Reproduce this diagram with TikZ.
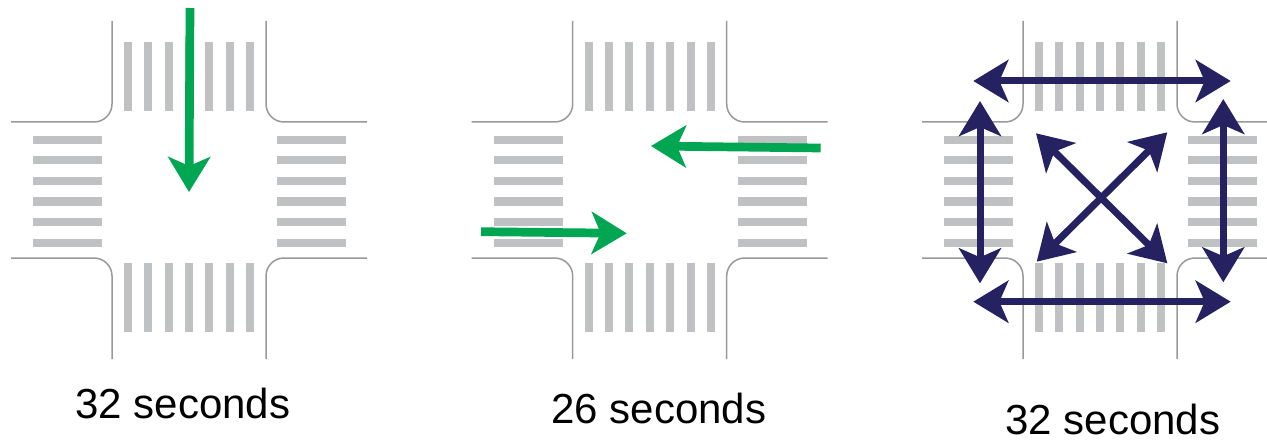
\documentclass[tikz,border=0pt]{standalone}
\usepackage{fontspec}
\setmainfont{Liberation Sans}
\usetikzlibrary{arrows.meta}
\definecolor{stripe}{HTML}{C0C1C3}
\definecolor{curb}{HTML}{999999}
\definecolor{grn}{HTML}{00A651}
\definecolor{navy}{HTML}{262262}
\tikzset{
  curbline/.style={draw=curb,line width=1.5pt,rounded corners=18pt},
  stripebar/.style={fill=stripe},
  tiphead/.style={Stealth[length=35pt,width=42pt,inset=9pt]},
  greenarrow/.style={draw=grn,line width=8.7pt,-{Stealth[length=35pt,width=42pt,inset=9pt]}},
  navyarrow/.style={draw=navy,line width=7pt,{Stealth[length=35pt,width=42pt,inset=9pt]}-{Stealth[length=35pt,width=42pt,inset=9pt]}},
  caption/.style={anchor=base,font=\fontsize{42pt}{46pt}\selectfont,inner sep=0pt}
}
\newcommand{\crossing}[1]{%
  \begin{scope}[shift={(#1,0)}]
    % curbs
    \draw[curbline] (-77,21) -- (-77,122) -- (-178,122);
    \draw[curbline] (77,21) -- (77,122) -- (178,122);
    \draw[curbline] (-77,359) -- (-77,258) -- (-178,258);
    \draw[curbline] (77,359) -- (77,258) -- (178,258);
    % top and bottom stripes
    \foreach \k in {-3,...,3}{
      \fill[stripebar] ({\k*20.4-4},42) rectangle ({\k*20.4+4},111);
      \fill[stripebar] ({\k*20.4-4},263) rectangle ({\k*20.4+4},332);
    }
    % left and right stripes
    \foreach \k in {0,...,5}{
      \fill[stripebar] (-156,{136+\k*20.5}) rectangle (-87,{144+\k*20.5});
      \fill[stripebar] (88,{136+\k*20.5}) rectangle (157,{144+\k*20.5});
    }
  \end{scope}}
\begin{document}
\begin{tikzpicture}[x=1pt,y=-1pt]
\useasboundingbox (0,0) rectangle (1267,441);
\crossing{189}
\crossing{649.7}
\crossing{1100}
% panel 1 arrow
\coordinate (a1s) at (190,8);
\coordinate (a1e) at (189,192);
\draw[greenarrow] (a1s) -- (a1e);
% panel 2 arrows
\coordinate (b1s) at (820.7,148);
\coordinate (b1e) at (651,146);
\coordinate (b2s) at (481,231.7);
\coordinate (b2e) at (626.7,233.3);
\draw[greenarrow] (b1s) -- (b1e);
\draw[greenarrow] (b2s) -- (b2e);
% panel 3 arrows
\coordinate (tl) at (973.3,81);
\coordinate (tr) at (1230.7,81);
\coordinate (bl) at (973.3,301.7);
\coordinate (br) at (1230.7,301.7);
\coordinate (lt) at (980,101);
\coordinate (lb) at (980,283.3);
\coordinate (rt) at (1223.3,99);
\coordinate (rb) at (1223.3,282.3);
\coordinate (d1a) at (1036,133.3);
\coordinate (d1b) at (1167.3,263.3);
\coordinate (d2a) at (1167.3,132.3);
\coordinate (d2b) at (1036.7,261.7);
\draw[navyarrow] (tl) -- (tr);
\draw[navyarrow] (bl) -- (br);
\draw[navyarrow] (lt) -- (lb);
\draw[navyarrow] (rt) -- (rb);
\draw[navyarrow] (d1a) -- (d1b);
\draw[navyarrow] (d2a) -- (d2b);
% captions
\node[caption] (c1) at (183,418) {32 seconds};
\node[caption] (c2) at (659,423) {26 seconds};
\node[caption] (c3) at (1113,434) {32 seconds};
\end{tikzpicture}
\end{document}
